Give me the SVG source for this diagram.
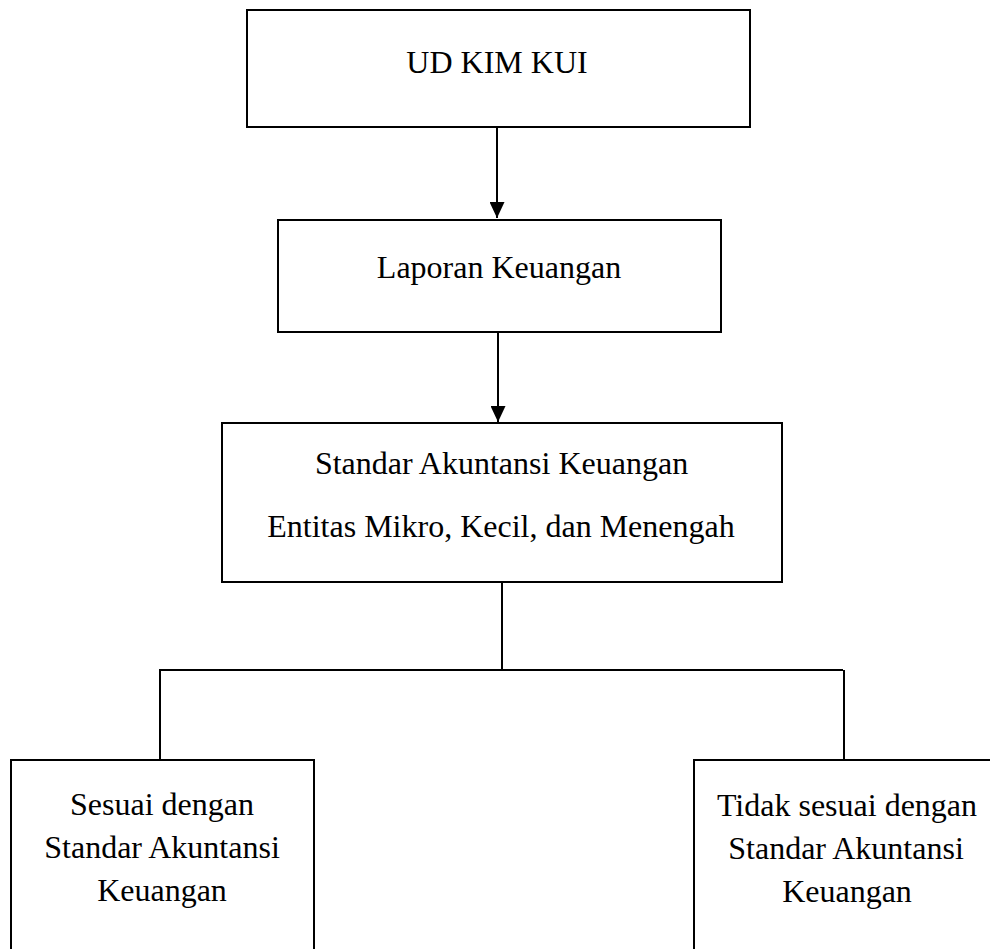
<svg xmlns="http://www.w3.org/2000/svg" width="990" height="949" viewBox="0 0 990 949">
<style>
.box{fill:#fff;stroke:#000;stroke-width:2}
.lbl{font-family:"Liberation Serif","Times New Roman",serif;font-size:32px;fill:#000;text-anchor:middle}
.con{fill:none;stroke:#000;stroke-width:2}
</style>
<defs>
<marker id="arr" markerUnits="userSpaceOnUse" markerWidth="16" markerHeight="15" viewBox="0 0 16 15" refX="16" refY="7.5" orient="auto">
<path d="M0,0 L16,7.5 L0,15 z" fill="#000"/>
</marker>
</defs>
<rect width="990" height="949" fill="#fff"/>
<g id="connectors">
<line class="con" x1="497" y1="127" x2="497" y2="218" marker-end="url(#arr)"/>
<line class="con" x1="498" y1="333" x2="498" y2="422" marker-end="url(#arr)"/>
<polyline class="con" points="502,582 502,670"/>
<polyline class="con" points="160,760 160,670 843,670"/>
<polyline class="con" points="844,670 844,760"/>
</g>
<g id="n1">
<rect class="box" x="247" y="10" width="503" height="117"/>
<text class="lbl" x="497" y="73">UD KIM KUI</text>
</g>
<g id="n2">
<rect class="box" x="278" y="220" width="443" height="112"/>
<text class="lbl" x="499" y="278">Laporan Keuangan</text>
</g>
<g id="n3">
<rect class="box" x="222" y="423" width="560" height="159"/>
<text class="lbl" x="501.5" y="474">Standar Akuntansi Keuangan</text>
<text class="lbl" x="501" y="537">Entitas Mikro, Kecil, dan Menengah</text>
</g>
<g id="n4">
<rect class="box" x="11" y="760" width="303" height="220"/>
<text class="lbl" x="162" y="815">Sesuai dengan</text>
<text class="lbl" x="162" y="858">Standar Akuntansi</text>
<text class="lbl" x="162" y="901">Keuangan</text>
</g>
<g id="n5">
<rect class="box" x="694" y="760" width="320" height="220"/>
<text class="lbl" x="847" y="816">Tidak sesuai dengan</text>
<text class="lbl" x="846" y="859">Standar Akuntansi</text>
<text class="lbl" x="847" y="902">Keuangan</text>
</g>
</svg>
